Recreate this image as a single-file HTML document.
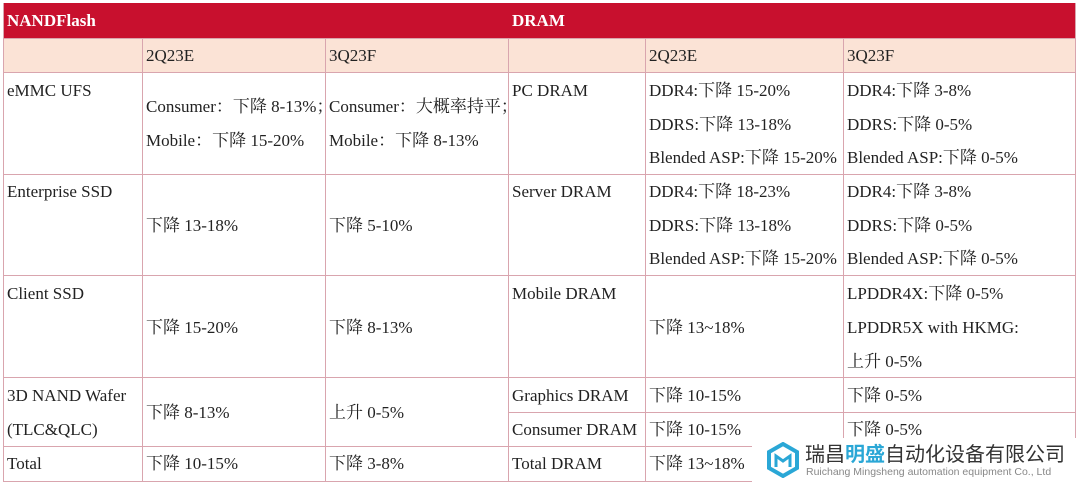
<!DOCTYPE html>
<html><head><meta charset="utf-8"><style>
body{margin:0;width:1080px;height:484px;background:#fff;position:relative;overflow:hidden;font-family:"Liberation Serif","Noto Serif CJK SC","Noto Sans CJK SC",serif;color:#222}
.t{position:absolute;font-size:17px;line-height:20px;white-space:nowrap;transform:translateY(-9px)}
.h{position:absolute;background:#d9a5ae}
</style></head><body>
<div style="position:absolute;left:3px;top:3px;width:1072px;height:35px;background:#c8102e"></div>
<div style="position:absolute;left:3px;top:38px;width:1072px;height:34px;background:#fbe3d6"></div>
<div class="t" style="left:7px;top:20px;color:#fff;font-weight:bold">NANDFlash</div>
<div class="t" style="left:512px;top:20px;color:#fff;font-weight:bold">DRAM</div>
<div id="lines"></div>
<div id="texts"></div>
<div style="position:absolute;left:752px;top:438px;width:328px;height:46px;background:#fff">
<svg style="position:absolute;left:14px;top:4px" width="34" height="36" viewBox="0 0 34 36"><polygon points="17,2 31,10 31,26 17,34 3,26 3,10" fill="none" stroke="#2aa7d6" stroke-width="4"/><path d="M10 25 V14 L17 19 L24 14 V25" fill="none" stroke="#2aa7d6" stroke-width="3"/></svg>
<div style="position:absolute;left:53px;top:3px;font-family:'Noto Sans CJK SC',sans-serif;font-size:20px;line-height:24px;color:#333;white-space:nowrap">瑞昌<span style="color:#2aa7d6;font-weight:bold">明盛</span>自动化设备有限公司</div>
<div style="position:absolute;left:54px;top:28px;font-family:'Liberation Sans',sans-serif;font-size:10.5px;color:#888;white-space:nowrap">Ruichang Mingsheng automation equipment Co., Ltd</div>
</div>
<script>
const L=document.getElementById('lines');
function ln(x,y,w,h,n){const d=document.createElement('div');d.className='h';d.style.left=x+'px';d.style.top=y+'px';d.style.width=w+'px';d.style.height=h+'px';


L.appendChild(d);}
[38,72,174,275,377,446,481].forEach(y=>ln(3,y,1072,1,'row-border'));
ln(508,412,567,1,'row-border');
ln(3,3,1,478,'col-border');ln(1075,3,1,478,'col-border');
[142,325,508,645,843].forEach(x=>ln(x,38,1,443,'col-border'));
const T=document.getElementById('texts');
const cells=[
[146,55,'2Q23E'],[329,55,'3Q23F'],[649,55,'2Q23E'],[847,55,'3Q23F'],
[7,90,'eMMC UFS'],[146,106,'Consumer：下降 8-13%；'],[146,140,'Mobile：下降 15-20%'],[329,106,'Consumer：大概率持平；'],[329,140,'Mobile：下降 8-13%'],
[512,90,'PC DRAM'],[649,90,'DDR4:下降 15-20%'],[649,124,'DDRS:下降 13-18%'],[649,157,'Blended ASP:下降 15-20%'],[847,90,'DDR4:下降 3-8%'],[847,124,'DDRS:下降 0-5%'],[847,157,'Blended ASP:下降 0-5%'],
[7,191,'Enterprise SSD'],[146,225,'下降 13-18%'],[329,225,'下降 5-10%'],[512,191,'Server DRAM'],[649,191,'DDR4:下降 18-23%'],[649,225,'DDRS:下降 13-18%'],[649,258,'Blended ASP:下降 15-20%'],[847,191,'DDR4:下降 3-8%'],[847,225,'DDRS:下降 0-5%'],[847,258,'Blended ASP:下降 0-5%'],
[7,293,'Client SSD'],[146,327,'下降 15-20%'],[329,327,'下降 8-13%'],[512,293,'Mobile DRAM'],[649,327,'下降 13~18%'],[847,293,'LPDDR4X:下降 0-5%'],[847,327,'LPDDR5X with HKMG:'],[847,361,'上升 0-5%'],
[7,395,'3D NAND Wafer'],[7,429,'(TLC&QLC)'],[146,412,'下降 8-13%'],[329,412,'上升 0-5%'],[512,395,'Graphics DRAM'],[649,395,'下降 10-15%'],[847,395,'下降 0-5%'],[512,429,'Consumer DRAM'],[649,429,'下降 10-15%'],[847,429,'下降 0-5%'],
[7,463,'Total'],[146,463,'下降 10-15%'],[329,463,'下降 3-8%'],[512,463,'Total DRAM'],[649,463,'下降 13~18%']];
cells.forEach(c=>{const d=document.createElement('div');d.className='t';d.style.left=c[0]+'px';d.style.top=c[1]+'px';d.textContent=c[2];


T.appendChild(d);});
</script>
</body></html>
